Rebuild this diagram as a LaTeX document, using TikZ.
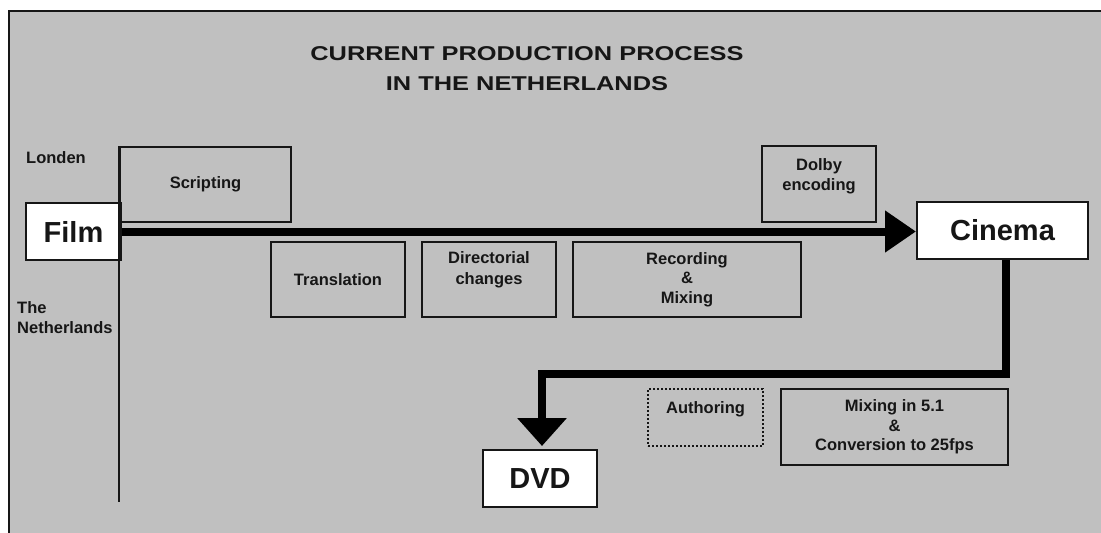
\documentclass[tikz,border=0pt]{standalone}
\usepackage{fontspec}
\setmainfont{Liberation Sans}
\usetikzlibrary{arrows.meta}
\definecolor{bggray}{RGB}{192,192,192}
\definecolor{ink}{RGB}{22,22,22}
\begin{document}
\begin{tikzpicture}[x=1pt,y=-1pt,
  box/.style={draw=ink, line width=2pt, inner sep=0pt, text=ink,
    font=\fontsize{16.5}{19.5}\selectfont\bfseries, align=center},
  endbox/.style={box, fill=white, font=\fontsize{29}{32}\selectfont\bfseries},
  lbl/.style={inner sep=0pt, text=ink, font=\fontsize{16.5}{20.5}\selectfont\bfseries, align=center},
  titlefont/.style={inner sep=0pt, text=ink, font=\fontsize{20}{24}\selectfont\bfseries},
  flow/.style={line width=8pt, draw=black, line join=miter},
]
\useasboundingbox (0,0) rectangle (1101,533);
% background
\fill[bggray] (9,11) rectangle (1101,533);
\draw[line width=1.5pt, ink] (9,533) -- (9,11) -- (1101,11);

% title
\node[titlefont] (t1) at (527,54) {\scalebox{1.27}[1]{CURRENT PRODUCTION PROCESS}};
\node[titlefont] (t2) at (527,83.5) {\scalebox{1.27}[1]{IN THE NETHERLANDS}};

% side labels
\node[lbl, anchor=west] (londen) at (26,158) {Londen};
\node[lbl, anchor=north west, align=left] (nl) at (17,301) {The\\Netherlands};

% boxes
\node[box, minimum width=171pt, minimum height=75pt] (scripting) at (205.5,184.5) {Scripting};
\node[box, minimum width=134pt, minimum height=75pt] (translation) at (338,279.5) {Translation};
\node[box, minimum width=134pt, minimum height=75pt] (directorial) at (489,279.5) {};
\node[lbl] (directorialtxt) at ([yshift=9.5pt]directorial.center) {Directorial\\changes};
\node[box, minimum width=228pt, minimum height=75pt] (recording) at (687,279.5) {Recording\\\&\\Mixing};
\node[box, minimum width=114pt, minimum height=76pt] (dolby) at (819,184) {};
\node[lbl] (dolbytxt) at ([yshift=7.5pt]dolby.center) {Dolby\\encoding};
\node[box, dotted, minimum width=115pt, minimum height=57pt] (authoring) at (705.5,417.5) {};
\node[lbl] (authoringtxt) at ([yshift=8.5pt]authoring.center) {Authoring};
\node[box, minimum width=227pt, minimum height=76pt] (mixing) at (894.5,427) {Mixing in 5.1\\\&\\Conversion to 25fps};

% end points
\node[endbox, minimum width=95pt, minimum height=57pt] (film) at (73.5,231.5) {Film};
\node[endbox, minimum width=171pt, minimum height=57pt] (cinema) at (1002.5,230.5) {Cinema};
\node[endbox, minimum width=114pt, minimum height=57pt] (dvd) at (540,478.5) {DVD};

% divider line
\draw[line width=2pt, ink] (scripting.north west) -- (scripting.north west |- 0,502);

% flows
\draw[flow, -{Triangle[length=31pt,width=40pt]}] (film.east) -- (film.east -| cinema.west);
\draw[flow, -{Triangle[length=28pt,width=48pt]}, shorten >=3pt]
  ([xshift=3.5pt]cinema.south) -- ++(0,114) -| ([xshift=2pt]dvd.north);
\end{tikzpicture}
\end{document}
